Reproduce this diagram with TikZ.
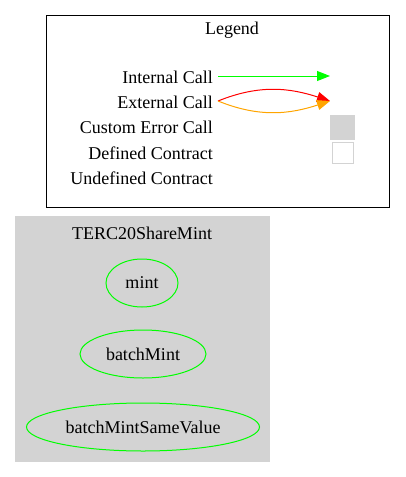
\documentclass[tikz,border=0pt]{standalone}
\usepackage{fontspec}
\setmainfont{Liberation Serif}
\usetikzlibrary{shapes.geometric,arrows.meta}
\definecolor{lgray}{RGB}{211,211,211}
\definecolor{gre}{RGB}{0,255,0}
\definecolor{ora}{RGB}{255,165,0}
\begin{document}
\begin{tikzpicture}[x=1pt,y=-1pt,
  txt/.style={font=\fontsize{18}{21}\selectfont, inner sep=0pt},
  lbl/.style={txt, anchor=east},
  fn/.style={ellipse, draw=gre, txt, minimum height=48pt, line width=1pt},
  tip/.style={-{Triangle[length=13pt,width=10pt]}}
]
\useasboundingbox (0,0) rectangle (406,477);
% legend
\node[draw=black, line width=1pt, minimum width=343pt, minimum height=192pt, anchor=north west, inner sep=0pt] (legend) at (46,15) {};
\node[txt] (legtitle) at (232,30) {Legend};
\node[lbl] (l1) at (213,77) {Internal Call};
\node[lbl] (l2) at (213,102) {External Call};
\node[lbl] (l3) at (213,127) {Custom Error Call};
\node[lbl] (l4) at (213,153) {Defined Contract};
\node[lbl] (l5) at (213,178) {Undefined Contract};
\coordinate (a1s) at (218,76);
\coordinate (a1e) at (330,76);
\coordinate (a2s) at (218,101);
\coordinate (a2e) at (330,101);
\draw[gre, line width=1pt, tip] (a1s) -- (a1e);
\draw[red, line width=1pt, tip] (a2s) .. controls (260,84) and (290,88) .. (a2e);
\draw[ora, line width=1pt, tip] (a2s) .. controls (260,118) and (290,114) .. (a2e);
\node[fill=lgray, minimum width=25pt, minimum height=25pt, inner sep=0pt] (err) at (342.5,127.5) {};
\node[draw=lgray, fill=white, line width=1pt, minimum width=21pt, minimum height=21pt, inner sep=0pt] (def) at (342.5,152.5) {};
% cluster
\node[fill=lgray, minimum width=255pt, minimum height=246pt, anchor=north west, inner sep=0pt] (cluster) at (15,216) {};
\node[txt] (ctitle) at (142,233) {TERC20ShareMint};
\node[fn, minimum width=72pt] (mint) at (142,283) {mint};
\node[fn, minimum width=126pt] (batchMint) at (143,354) {batchMint};
\node[fn, minimum width=233pt] (bmsv) at (143,427) {batchMintSameValue};
\end{tikzpicture}
\end{document}
